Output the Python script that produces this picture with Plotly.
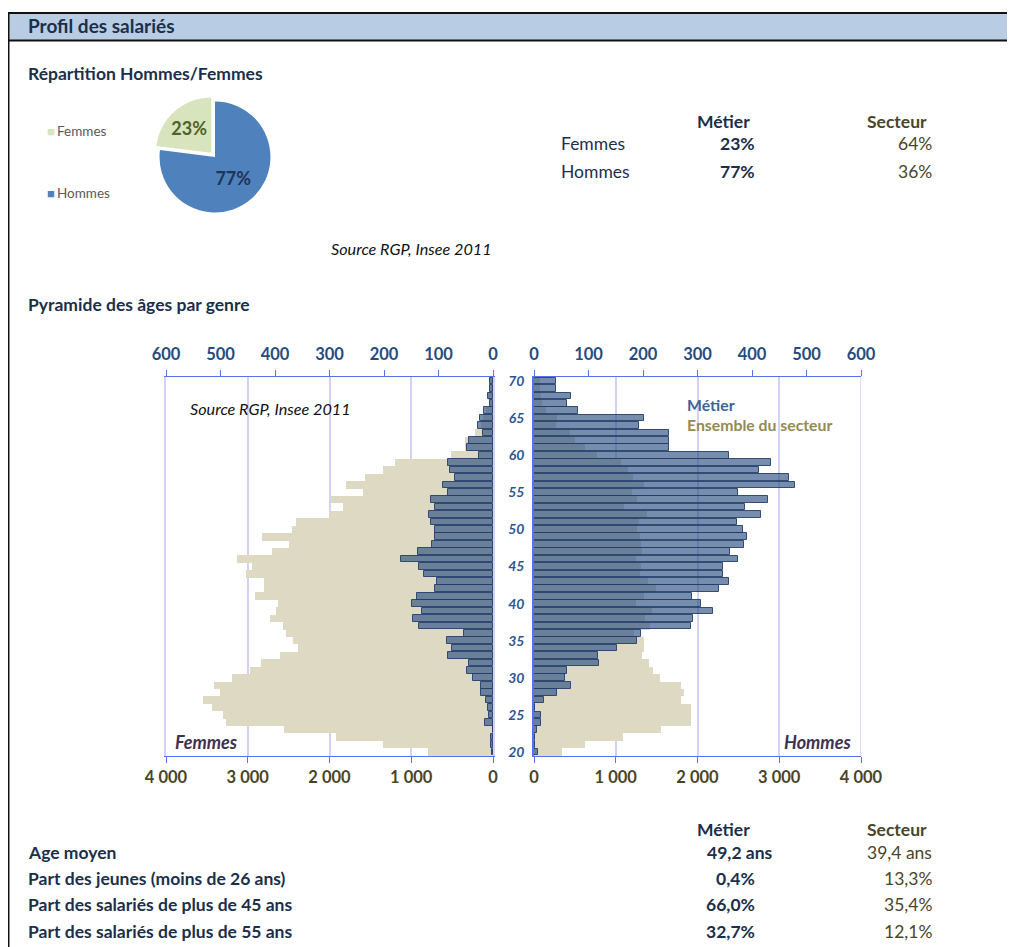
import plotly.graph_objects as go

W, H = 1015, 947

# ---------------- Data ----------------
ages = list(range(20, 71))
age_ticks = [20, 25, 30, 35, 40, 45, 50, 55, 60, 65, 70]

femmes_metier = [1, 3, 4, 0, 15, 8, 9, 13, 22, 22, 37, 48, 44, 82, 76, 84, 53, 136, 147, 130,
                 148, 140, 106, 103, 127, 136, 169, 137, 112, 106, 106, 114, 117, 107, 113, 82,
                 92, 70, 79, 82, 26, 48, 44, 18, 27, 23, 16, 5, 9, 6, 5]
femmes_secteur = [797, 1351, 1920, 2555, 3263, 3308, 3434, 3552, 3344, 3410, 3194, 2970, 2840,
                  2600, 2388, 2441, 2535, 2563, 2726, 2653, 2632, 2913, 2799, 2807, 3019, 2942,
                  3137, 2698, 2490, 2820, 2453, 2409, 2002, 1839, 1981, 1595, 1798, 1566, 1343,
                  1196, 517, 346, 346, 224, 150, 120, 90, 40, 60, 45, 50]
hommes_metier = [7, 2, 2, 5, 12, 12, 2, 18, 42, 67, 57, 61, 119, 117, 153, 189, 197, 288, 291,
                 328, 306, 290, 340, 357, 346, 347, 375, 360, 385, 390, 384, 372, 416, 387, 430,
                 375, 478, 468, 412, 434, 358, 248, 248, 248, 192, 201, 80, 61, 67, 40, 41]
hommes_secteur = [347, 629, 1094, 1551, 1922, 1922, 1922, 1804, 1837, 1804, 1547, 1457, 1408,
                  1322, 1347, 1347, 1220, 1416, 1363, 1441, 1245, 1343, 1490, 1396, 1294, 1314,
                  1253, 1327, 1314, 1294, 1265, 1286, 1384, 1102, 1265, 1200, 1347, 1212, 1151,
                  1069, 771, 620, 498, 437, 273, 286, 151, 98, 90, 69, 78]

metier_ticks = [0, 100, 200, 300, 400, 500, 600]
secteur_ticks = [0, 1000, 2000, 3000, 4000]
secteur_ticktext = ["0", "1 000", "2 000", "3 000", "4 000"]

pie_labels = ["Hommes", "Femmes"]
pie_values = [77, 23]

genre_rows = ["Femmes", "Hommes"]
genre_metier = ["23%", "77%"]
genre_secteur = ["64%", "36%"]

stat_rows = ["Age moyen", "Part des jeunes (moins de 26 ans)",
             "Part des salariés de plus de 45 ans", "Part des salariés de plus de 55 ans"]
stat_metier = ["49,2 ans", "0,4%", "66,0%", "32,7%"]
stat_secteur = ["39,4 ans", "13,3%", "35,4%", "12,1%"]

# ---------------- Styles ----------------
FONT = "Lato, Calibri, Carlito, sans-serif"
NAVY = "#1b2f4b"
OLIVE = "#4a4528"
TAN = "#ddd9c3"
MET_FILL = "rgba(45,80,130,0.65)"
MET_LINE = "rgba(35,62,108,0.9)"
AXBLUE = "#5572ee"
GRID = "#d2d2f8"
TICKBLUE = "#244c80"

# the page body has an 8px margin: compensate so the picture lands where the reference is
OFF = 8


def px(x):
    return (x - OFF) / W


def py(y):
    return 1 - (y - OFF) / H


L0, L1 = px(166), px(493)
R0, R1 = px(534), px(861)
YD = [py(756), py(377)]
YR = [19.46, 70.54]

fig = go.Figure()

# Left pyramid (Femmes)
fig.add_trace(go.Bar(y=ages, x=femmes_secteur, orientation="h", xaxis="x", yaxis="y",
                     marker=dict(color=TAN, line=dict(width=0)), width=1.0,
                     name="Ensemble du secteur", showlegend=False, hoverinfo="x+y"))
fig.add_trace(go.Bar(y=ages, x=femmes_metier, orientation="h", xaxis="x2", yaxis="y",
                     marker=dict(color=MET_FILL, line=dict(color=MET_LINE, width=1)), width=0.9,
                     name="Métier", showlegend=False, hoverinfo="x+y"))
# Right pyramid (Hommes)
fig.add_trace(go.Bar(y=ages, x=hommes_secteur, orientation="h", xaxis="x3", yaxis="y2",
                     marker=dict(color=TAN, line=dict(width=0)), width=1.0,
                     name="Ensemble du secteur", showlegend=False, hoverinfo="x+y"))
fig.add_trace(go.Bar(y=ages, x=hommes_metier, orientation="h", xaxis="x4", yaxis="y2",
                     marker=dict(color=MET_FILL, line=dict(color=MET_LINE, width=1)), width=0.9,
                     name="Métier", showlegend=False, hoverinfo="x+y"))

# Pie
fig.add_trace(go.Pie(labels=pie_labels, values=pie_values, sort=False, direction="clockwise",
                     rotation=0, pull=[0, 0.1], showlegend=False,
                     domain=dict(x=[px(154), px(276)], y=[py(218), py(96)]),
                     marker=dict(colors=["#4f81bd", "#d7e4bd"], line=dict(color="white", width=0)),
                     textinfo="percent", textposition="inside", insidetextorientation="horizontal",
                     insidetextfont=dict(family=FONT, size=18, color=["#1f3457", "#4f6228"], weight="bold"),
                     hoverinfo="label+percent"))

sec_tickfont = dict(family=FONT, size=16.5, color=OLIVE, weight="bold")
met_tickfont = dict(family=FONT, size=16.5, color=TICKBLUE, weight="bold")

common_x = dict(showline=True, linecolor=AXBLUE, linewidth=1, ticks="outside", ticklen=6,
                tickcolor=AXBLUE, zeroline=False, fixedrange=True, automargin=False)

fig.update_layout(
    template="none",
    width=W, height=H, margin=dict(l=0, r=0, t=0, b=0, pad=0, autoexpand=False),
    paper_bgcolor="white", plot_bgcolor="rgba(0,0,0,0)",
    font=dict(family=FONT, color=NAVY),
    barmode="overlay", bargap=0,
    xaxis=dict(domain=[L0, L1], range=[4000, 0], anchor="y", side="bottom",
               tickvals=secteur_ticks, ticktext=secteur_ticktext, tickfont=sec_tickfont,
               showgrid=True, gridcolor=GRID, gridwidth=1.5, ticklabelstandoff=0, **common_x),
    xaxis2=dict(overlaying="x", range=[600, 0], anchor="y", side="top",
                tickvals=metier_ticks, tickfont=met_tickfont, showgrid=False,
                ticklabelstandoff=3, **common_x),
    xaxis3=dict(domain=[R0, R1], range=[0, 4000], anchor="y2", side="bottom",
                tickvals=secteur_ticks, ticktext=secteur_ticktext, tickfont=sec_tickfont,
                showgrid=True, gridcolor=GRID, gridwidth=1.5, ticklabelstandoff=0, **common_x),
    xaxis4=dict(overlaying="x3", range=[0, 600], anchor="y2", side="top",
                tickvals=metier_ticks, tickfont=met_tickfont, showgrid=False,
                ticklabelstandoff=3, **common_x),
    yaxis=dict(domain=YD, range=YR, anchor="x", showticklabels=False, showgrid=False,
               showline=True, mirror=True, linecolor=GRID, linewidth=1.5,
               zeroline=False, fixedrange=True, automargin=False),
    yaxis2=dict(domain=YD, range=YR, anchor="x3", tickvals=age_ticks, showgrid=False,
                showline=True, linecolor=AXBLUE, linewidth=1.5, ticks="", zeroline=False,
                ticklabelstandoff=5, fixedrange=True, automargin=False,
                tickfont=dict(family=FONT, size=14, color="#2b5594", style="italic", weight="bold")),
)

shapes = []
# Header band
shapes.append(dict(type="rect", xref="paper", yref="paper", x0=px(8), x1=1.0, y0=py(40), y1=py(13),
                   fillcolor="#b8cce4", line=dict(width=0), layer="below"))
shapes.append(dict(type="line", xref="paper", yref="paper", x0=px(7), x1=1.0, y0=py(13), y1=py(13),
                   line=dict(color="#111111", width=2)))
shapes.append(dict(type="line", xref="paper", yref="paper", x0=px(7), x1=1.0, y0=py(40.5), y1=py(40.5),
                   line=dict(color="#111111", width=2)))
shapes.append(dict(type="line", xref="paper", yref="paper", x0=px(8.5), x1=px(8.5), y0=py(12), y1=0,
                   line=dict(color="#111111", width=2)))
# right border of the Hommes plot area (4 000 gridline)
shapes.append(dict(type="line", xref="x3", yref="paper", x0=4000, x1=4000, y0=YD[0], y1=YD[1],
                   line=dict(color=GRID, width=1.5), layer="below"))
# white text boxes inside pyramid (hide gridlines)
shapes.append(dict(type="rect", xref="paper", yref="paper", x0=px(176), x1=px(420), y0=py(424), y1=py(384),
                   fillcolor="white", line=dict(width=0), layer="between"))
shapes.append(dict(type="rect", xref="paper", yref="paper", x0=px(640), x1=px(858), y0=py(450), y1=py(384),
                   fillcolor="white", line=dict(width=0), layer="between"))
fig.update_layout(shapes=shapes)

ann = []


def text(x, y, s, size=15, color=NAVY, bold=False, italic=False, anchor="left"):
    f = dict(family=FONT, size=size, color=color)
    if bold:
        f["weight"] = "bold"
    if italic:
        f["style"] = "italic"
    ann.append(dict(x=px(x), y=py(y), xref="paper", yref="paper", text=s, showarrow=False,
                    xanchor=anchor, yanchor="middle", font=f))


text(26, 26, "Profil des salariés", 19, NAVY, bold=True)
text(26, 73, "Répartition Hommes/Femmes", 17.5, NAVY, bold=True)
text(26, 304, "Pyramide des âges par genre", 17.5, NAVY, bold=True)
text(411, 248, "Source RGP, Insee 2011", 16.2, "#111111", italic=True, anchor="center")

# pie legend
text(45, 131, "■", 13, "#d7e4bd", anchor="left")
text(55, 131, "Femmes", 13.5, "#595959")
text(45, 193, "■", 13, "#4f81bd", anchor="left")
text(55, 193, "Hommes", 13.5, "#595959")

# Gender table
text(723, 121, "Métier", 17.5, NAVY, bold=True, anchor="center")
text(897, 121, "Secteur", 17.5, OLIVE, bold=True, anchor="center")
for i, lab in enumerate(genre_rows):
    yy = 144 + i * 27
    text(559, yy, lab, 17.5, NAVY)
    text(757, yy, genre_metier[i], 17.5, NAVY, bold=True, anchor="right")
    text(934, yy, genre_secteur[i], 17.5, OLIVE, anchor="right")

# Pyramid annotations
text(270, 408, "Source RGP, Insee 2011", 16.2, "#111111", italic=True, anchor="center")
text(685, 404, "Métier", 15.8, "#3e6496", bold=True)
text(685, 425, "Ensemble du secteur", 15.8, "#948a54", bold=True)
text(206, 742, "Femmes", 18, "#3f3151", bold=True, italic=True, anchor="center")
text(817, 742, "Hommes", 18, "#3f3151", bold=True, italic=True, anchor="center")

# Stats table
text(723, 829, "Métier", 17.5, NAVY, bold=True, anchor="center")
text(897, 829, "Secteur", 17.5, OLIVE, bold=True, anchor="center")
stat_right = [775, 757, 757, 757]
for i, lab in enumerate(stat_rows):
    yy = 852 + i * 26.4
    text(26, yy, lab, 17.5, NAVY, bold=True)
    text(stat_right[i], yy, stat_metier[i], 17.5, NAVY, bold=True, anchor="right")
    text(934, yy, stat_secteur[i], 17.5, OLIVE, anchor="right")

fig.update_layout(annotations=ann)

fig.write_html("out.html")
